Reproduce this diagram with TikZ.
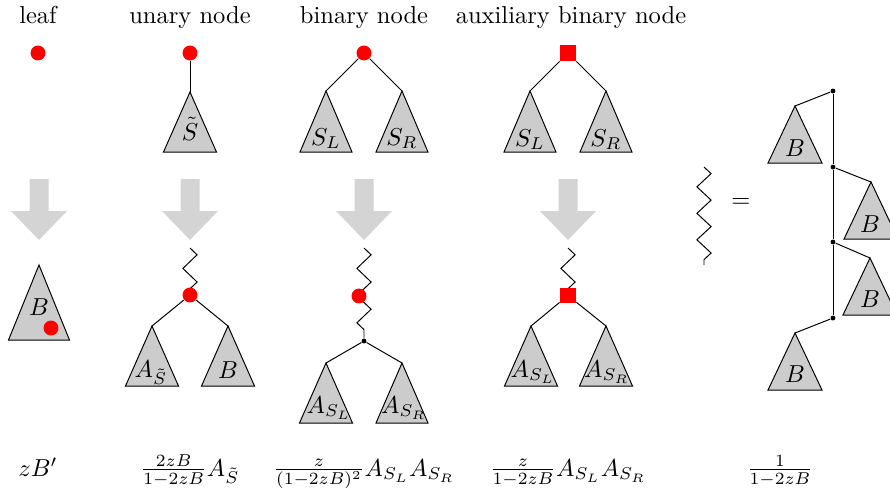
\documentclass[tikz,border=0pt]{standalone}
\usetikzlibrary{decorations.pathmorphing,backgrounds}
\definecolor{treegray}{gray}{0.8}
\definecolor{arrgray}{gray}{0.83}
\begin{document}
\begin{tikzpicture}[x=0.408pt,y=-0.408pt,
  reddot/.style={circle,fill=red,inner sep=0pt,minimum size=6.1pt},
  redsq/.style={rectangle,fill=red,inner sep=0pt,minimum size=6.5pt},
  blackdot/.style={circle,fill=black,inner sep=0pt,minimum size=2pt},
  tree/.style={draw=black,fill=treegray},
  zz/.style={decorate,decoration={zigzag,segment length=11.1pt,amplitude=2.9pt}},
  lbl/.style={anchor=base,inner sep=0pt},
  blockarrow/.pic={\fill[arrgray] (-9.5,-61) -- (9.5,-61) -- (9.5,-29) -- (28,-29) -- (0,0) -- (-28,-29) -- (-9.5,-29) -- cycle;}]
\useasboundingbox (0,0) rectangle (890,487);

% titles
\node[lbl] (t1) at (38,23) {leaf};
\node[lbl] (t2) at (190,23) {unary node};
\node[lbl] (t3) at (364,23) {binary node};
\node[lbl] (t4) at (571,23) {auxiliary binary node};

% top row: leaf
\node[reddot] (l0) at (38,53) {};

% top row: unary
\node[reddot] (u0) at (190,53) {};
\coordinate (u1) at (190,92);
\filldraw[tree] (u1) -- ++(-26.5,60) -- ++(53,0) -- cycle;
\draw (u0) -- (u1);
\node[lbl] (u1l) at (190,140) {$\tilde S$};

% top row: binary
\node[reddot] (b0) at (364,53) {};
\coordinate (b1) at (326,91);
\coordinate (b2) at (402,91);
\filldraw[tree] (b1) -- ++(-26,61) -- ++(52,0) -- cycle;
\filldraw[tree] (b2) -- ++(-26,61) -- ++(52,0) -- cycle;
\draw (b0) -- (b1);
\draw (b0) -- (b2);
\node[lbl] (b1l) at (326,145) {$S_L$};
\node[lbl] (b2l) at (402,145) {$S_R$};

% top row: auxiliary
\node[redsq] (a0) at (568,53) {};
\coordinate (a1) at (530,91);
\coordinate (a2) at (606,91);
\filldraw[tree] (a1) -- ++(-26,61) -- ++(52,0) -- cycle;
\filldraw[tree] (a2) -- ++(-26,61) -- ++(52,0) -- cycle;
\draw (a0) -- (a1);
\draw (a0) -- (a2);
\node[lbl] (a1l) at (530,146) {$S_L$};
\node[lbl] (a2l) at (606,146) {$S_R$};

% block arrows
\pic at (39,240) {blockarrow};
\pic at (190,240) {blockarrow};
\pic at (364,240) {blockarrow};
\pic at (568,240) {blockarrow};

% bottom: leaf
\coordinate (lb) at (39,265);
\filldraw[tree] (lb) -- ++(-30.5,75) -- ++(61,0) -- cycle;
\node[lbl] (lbl1) at (39,315) {$B$};
\node[reddot] (lbd) at (51,328) {};

% bottom: unary
\coordinate (uz) at (190,248);
\node[reddot] (u2) at (190,295) {};
\begin{scope}[on background layer]
\draw[zz] (uz) -- (u2.center);
\end{scope}
\coordinate (u3) at (152,326);
\coordinate (u4) at (228,326);
\filldraw[tree] (u3) -- ++(-26.5,60) -- ++(53,0) -- cycle;
\filldraw[tree] (u4) -- ++(-26.5,60) -- ++(53,0) -- cycle;
\draw (u2) -- (u3);
\draw (u2) -- (u4);
\node[lbl] (u3l) at (151,377) {$A_{\tilde S}$};
\node[lbl] (u4l) at (228,378) {$B$};

% bottom: binary
\coordinate (bz) at (364,248);
\node[blackdot] (b3) at (364,341) {};
\draw[zz,decoration={post length=3pt}] (bz) -- (b3);
\node[reddot] (bd) at (359,296) {};
\coordinate (b4) at (326,363);
\coordinate (b5) at (402,363);
\filldraw[tree] (b4) -- ++(-26.5,60) -- ++(53,0) -- cycle;
\filldraw[tree] (b5) -- ++(-26,60) -- ++(52,0) -- cycle;
\draw (b3) -- (b4);
\draw (b3) -- (b5);
\node[lbl] (b4l) at (329,413) {$A_{S_L}$};
\node[lbl] (b5l) at (404,413) {$A_{S_R}$};

% bottom: auxiliary
\coordinate (az) at (568,248);
\node[redsq] (a3) at (568,295.5) {};
\begin{scope}[on background layer]
\draw[zz] (az) -- (a3.center);
\end{scope}
\coordinate (a4) at (531,326);
\coordinate (a5) at (606,326);
\filldraw[tree] (a4) -- ++(-26.5,60) -- ++(53,0) -- cycle;
\filldraw[tree] (a5) -- ++(-26.5,60) -- ++(53,0) -- cycle;
\draw (a3) -- (a4);
\draw (a3) -- (a5);
\node[lbl] (a4l) at (533,377) {$A_{S_L}$};
\node[lbl] (a5l) at (607,377) {$A_{S_R}$};

% legend: zigzag = chain
\coordinate (zt) at (704,167);
\coordinate (zb) at (704,265);
\draw[zz,decoration={segment length=10.8pt}] (zt) -- (zb);
\node (eq) at (741,203) {$=$};

\node[blackdot] (r1) at (833,91) {};
\node[blackdot] (r2) at (833,167) {};
\node[blackdot] (r3) at (833,242) {};
\node[blackdot] (r4) at (833,318) {};
\draw (r1) -- (r2) -- (r3) -- (r4);
\coordinate (ra1) at (795,106);
\coordinate (ra2) at (871,182);
\coordinate (ra3) at (870,258);
\coordinate (ra4) at (795,333);
\filldraw[tree] (ra1) -- ++(-27,57) -- ++(54,0) -- cycle;
\filldraw[tree] (ra2) -- ++(-27,57) -- ++(54,0) -- cycle;
\filldraw[tree] (ra3) -- ++(-27,57) -- ++(54,0) -- cycle;
\filldraw[tree] (ra4) -- ++(-27,57) -- ++(54,0) -- cycle;
\draw (r1) -- (ra1);
\draw (r2) -- (ra2);
\draw (r3) -- (ra3);
\draw (r4) -- (ra4);
\node[lbl] (ra1l) at (795,156) {$B$};
\node[lbl] (ra2l) at (870,232) {$B$};
\node[lbl] (ra3l) at (870,307) {$B$};
\node[lbl] (ra4l) at (795,382) {$B$};

% formulas
\node[lbl] (f1) at (38,476) {$zB'$};
\node[lbl] (f2) at (190,476) {$\frac{2zB}{1-2zB}A_{\tilde S}$};
\node[lbl] (f3) at (364,476) {$\frac{z}{(1-2zB)^2}A_{S_L}A_{S_R}$};
\node[lbl] (f4) at (568,476) {$\frac{z}{1-2zB}A_{S_L}A_{S_R}$};
\node[lbl] (f5) at (780,476) {$\frac{1}{1-2zB}$};
\end{tikzpicture}
\end{document}
